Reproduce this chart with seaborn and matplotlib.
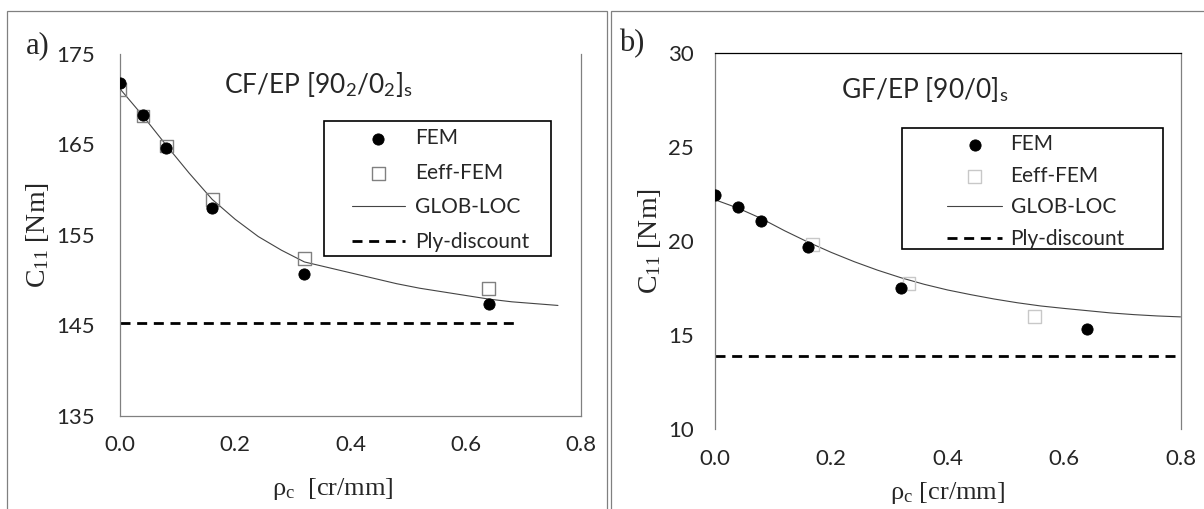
import matplotlib
matplotlib.use("Agg")
import matplotlib.pyplot as plt
import seaborn as sns
from matplotlib.patches import Rectangle

# crack density [cr/mm]
rho = [0.0, 0.04, 0.08, 0.16, 0.32, 0.64]

# a) CF/EP [90_2/0_2]_s
fem_a = [171.8, 168.2, 164.6, 157.9, 150.7, 147.4]
eeff_a = [171.0, 168.1, 164.8, 158.9, 152.4, 149.1]
glob_x_a = [0.0, 0.04, 0.08, 0.12, 0.16, 0.20, 0.24, 0.28, 0.32, 0.36,
            0.40, 0.44, 0.48, 0.52, 0.56, 0.60, 0.64, 0.68, 0.72, 0.76]
glob_a = [171.1, 168.1, 164.9, 161.8, 158.9, 156.7, 154.8, 153.3, 152.0, 151.4,
          150.8, 150.2, 149.6, 149.1, 148.7, 148.3, 147.9, 147.6, 147.4, 147.2]
ply_x_a = [0.0, 0.69]
ply_a = [145.3, 145.3]

# b) GF/EP [90/0]_s
fem_b = [22.42, 21.78, 21.06, 19.66, 17.48, 15.34]
eeff_x_b = [0.168, 0.334, 0.55]
eeff_b = [19.82, 17.75, 16.01]
glob_x_b = [0.0, 0.04, 0.08, 0.12, 0.16, 0.20, 0.24, 0.28, 0.32, 0.36, 0.40,
            0.44, 0.48, 0.52, 0.56, 0.60, 0.64, 0.68, 0.72, 0.76, 0.80]
glob_b = [22.2, 21.75, 21.2, 20.55, 19.95, 19.4, 18.9, 18.45, 18.05, 17.7, 17.4,
          17.15, 16.92, 16.72, 16.55, 16.42, 16.3, 16.18, 16.09, 16.02, 15.97]
ply_x_b = [0.0, 0.8]
ply_b = [13.89, 13.89]

sns.set_style("white")
plt.rcParams["font.family"] = ["Lato", "DejaVu Sans"]
plt.rcParams["mathtext.fontset"] = "custom"
plt.rcParams["mathtext.rm"] = "Liberation Serif"
plt.rcParams["mathtext.sf"] = "Lato"
plt.rcParams["mathtext.it"] = "Liberation Serif:italic"

W, H = 1204, 509
fig = plt.figure(figsize=(12.04, 5.09), dpi=100)
ax_a = fig.add_axes([120 / W, 1 - 416 / H, 461 / W, 362.5 / H])
ax_b = fig.add_axes([714.5 / W, 1 - 429.3 / H, 466 / W, 376.6 / H])

# panel frames
fig.add_artist(Rectangle((7 / W, -0.1), 600 / W, 1.1 - 11 / H, transform=fig.transFigure,
                         fill=False, edgecolor="#808080", lw=0.9))
fig.add_artist(Rectangle((611 / W, -0.1), 0.6, 1.1 - 11 / H, transform=fig.transFigure,
                         fill=False, edgecolor="#808080", lw=0.9))


def panel(ax, x_fem, fem, x_eeff, eeff, sq_color, gx, gy, px, py, ypad):
    sns.lineplot(x=gx, y=gy, ax=ax, color="#444444", lw=0.8, label="GLOB-LOC", zorder=2)
    sns.lineplot(x=px, y=py, ax=ax, color="black", lw=2, linestyle=(0, (3.6, 2.4)),
                 label="Ply-discount", zorder=2)
    sns.scatterplot(x=x_eeff, y=eeff, ax=ax, marker="s", s=85, facecolor="none",
                    edgecolor=sq_color, linewidth=1, label="Eeff-FEM", zorder=3)
    sns.scatterplot(x=x_fem, y=fem, ax=ax, marker="o", s=65, color="black",
                    edgecolor="black", label="FEM", zorder=4)
    ax.set_xlim(0, 0.8)
    ax.set_xticks([0.0, 0.2, 0.4, 0.6, 0.8])
    ax.set_xticklabels(["0.0", "0.2", "0.4", "0.6", "0.8"])
    ax.tick_params(direction="in", length=5, color="#999999", labelsize=16)
    ax.tick_params(axis="y", pad=ypad)
    ax.tick_params(axis="x", pad=14)
    for s in ax.spines.values():
        s.set_color("#808080")
        s.set_linewidth(0.9)
    h, l = ax.get_legend_handles_labels()
    order = [l.index(n) for n in ["FEM", "Eeff-FEM", "GLOB-LOC", "Ply-discount"]]
    return [h[i] for i in order], [l[i] for i in order]


leg_kw = dict(loc="upper left", fontsize=15, frameon=False, borderpad=0,
              borderaxespad=0)

h, l = panel(ax_a, rho, fem_a, rho, eeff_a, "#808080", glob_x_a, glob_a, ply_x_a, ply_a, 18)
ax_a.set_ylim(135, 175)
ax_a.set_yticks([135, 145, 155, 165, 175])
ax_a.spines["top"].set_visible(False)
ax_a.legend(h, l, bbox_to_anchor=(0.5026, 0.794), labelspacing=0.7,
            handlelength=2.55, handletextpad=0.48, **leg_kw)
ax_a.add_patch(Rectangle((0.4432, 0.4422), 0.4918, 0.3724, transform=ax_a.transAxes,
                         fill=False, edgecolor="black", lw=1.2, zorder=5))
ax_a.text(0.43, 0.89, r"CF/EP [90$_\mathsf{2}$/0$_\mathsf{2}$]$_\mathsf{s}$",
          transform=ax_a.transAxes, ha="center", va="baseline", fontsize=19)
ax_a.set_xlabel(r"ρ$_\mathrm{c}$  [cr/mm]", fontsize=19, family="Liberation Serif")
ax_a.set_ylabel(r"C$_{11}$ [Nm]", fontsize=20, family="Liberation Serif")
ax_a.xaxis.set_label_coords(0.462, -0.165)
ax_a.yaxis.set_label_coords(-0.15, 0.5)

h, l = panel(ax_b, rho, fem_b, eeff_x_b, eeff_b, "#c8c8c8", glob_x_b, glob_b, ply_x_b, ply_b, 15)
ax_b.set_ylim(10, 30)
ax_b.set_yticks([10, 15, 20, 25, 30])
ax_b.spines["bottom"].set_visible(False)
ax_b.spines["top"].set_color("black")
ax_b.legend(h, l, bbox_to_anchor=(0.499, 0.783), labelspacing=0.55,
            handlelength=2.65, handletextpad=0.4, **leg_kw)
ax_b.add_patch(Rectangle((0.4017, 0.478), 0.5614, 0.3213, transform=ax_b.transAxes,
                         fill=False, edgecolor="black", lw=1.2, zorder=5))
ax_b.text(0.45, 0.88, r"GF/EP [90/0]$_\mathsf{s}$",
          transform=ax_b.transAxes, ha="center", va="baseline", fontsize=19)
ax_b.set_xlabel(r"ρ$_\mathrm{c}$ [cr/mm]", fontsize=19, family="Liberation Serif")
ax_b.set_ylabel(r"C$_{11}$ [Nm]", fontsize=20, family="Liberation Serif")
ax_b.xaxis.set_label_coords(0.5, -0.135)
ax_b.yaxis.set_label_coords(-0.11, 0.5)

fig.text(38 / W, 1 - 46 / H, "a)", fontsize=22, family="Liberation Serif", ha="center", va="center")
fig.text(632 / W, 1 - 44 / H, "b)", fontsize=22, family="Liberation Serif", ha="center", va="center")

fig.savefig("out.png", dpi=100)
